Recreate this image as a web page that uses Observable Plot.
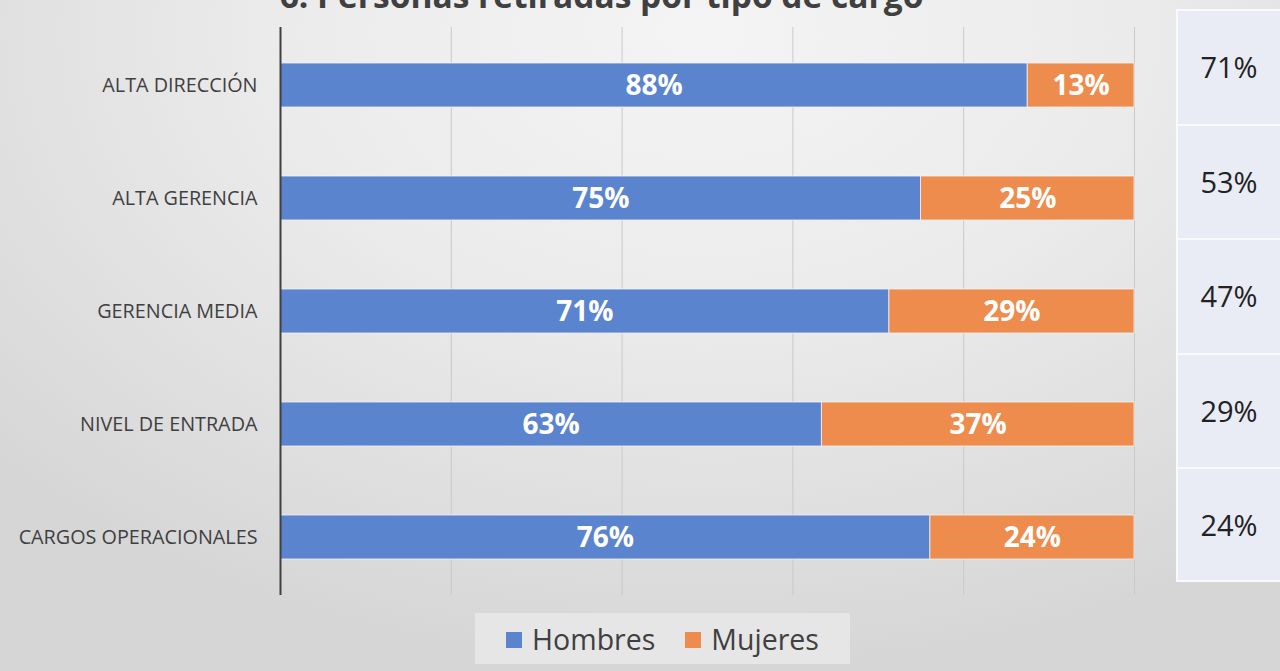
<!DOCTYPE html>
<html><head><meta charset="utf-8">
<script src="https://cdn.jsdelivr.net/npm/d3@7"></script>
<script src="https://cdn.jsdelivr.net/npm/@observablehq/plot@0.6"></script>
<style>
html,body{margin:0;padding:0;}
#wrap{position:relative;width:1280px;height:671px;overflow:hidden;
 background:radial-gradient(ellipse 75% 95% at 55% 5%, #f4f4f4 0%, #ebebeb 45%, #d6d6d6 100%);
 font-family:"Open Sans",sans-serif;}
#title{position:absolute;left:0;width:1203px;top:-28px;text-align:center;font-weight:700;font-size:33.5px;color:#404040;margin:0;white-space:nowrap;}
#chart{position:absolute;left:0;top:0;}
#legend{position:absolute;left:475px;top:613px;width:375px;height:51px;background:#e6e6e6;display:flex;align-items:center;justify-content:center;gap:30px;font-size:28.5px;color:#404040;}
#legend span.sw{display:inline-block;width:16px;height:16px;margin-right:10px;vertical-align:middle;position:relative;top:-2px;}
#side{position:absolute;left:1176px;top:9px;width:110px;}
#side div{box-sizing:border-box;height:114.6px;border:2px solid #fafafa;border-bottom:none;background:#e9ebf5;color:#222;font-size:29px;text-align:center;line-height:114px;}
#side div:last-child{border-bottom:2px solid #fafafa;}
#side div span{position:relative;left:-2px;top:-1px;}
</style></head>
<body>
<div id="wrap">
  <div id="title">6. Personas retiradas por tipo de cargo</div>
  <div id="chart"></div>
  <div id="side"></div>
  <div id="legend"></div>
</div>
<script>
const categorias = ["ALTA DIRECCIÓN","ALTA GERENCIA","GERENCIA MEDIA","NIVEL DE ENTRADA","CARGOS OPERACIONALES"];
const series = ["Hombres","Mujeres"];
const hombres = [87.5, 75, 71.3, 63.4, 76.1];
const mujeres = [12.5, 25, 28.7, 36.6, 23.9];
const etiquetasHombres = ["88%","75%","71%","63%","76%"];
const etiquetasMujeres = ["13%","25%","29%","37%","24%"];
const columnaDerecha = ["71%","53%","47%","29%","24%"];
const xTicks = [0,20,40,60,80,100];
const colores = ["#5b84cf","#ed8c4c"];

const rows = [
  ...categorias.map((c,i)=>({cat:c, serie:"Hombres", value:hombres[i], label:etiquetasHombres[i]})),
  ...categorias.map((c,i)=>({cat:c, serie:"Mujeres", value:mujeres[i], label:etiquetasMujeres[i]}))
];

const plot = Plot.plot({
  width: 1180, height: 600,
  marginLeft: 280, marginRight: 46, marginTop: 27, marginBottom: 5,
  style: {background:"transparent", fontFamily:"Open Sans, sans-serif", overflow:"visible"},
  x: {domain:[0,100], axis:null},
  y: {domain:categorias, paddingInner:0.612, paddingOuter:0.308, axis:null},
  color: {domain:series, range:colores},
  marks: [
    Plot.ruleX(xTicks.slice(1), {stroke:"#c9c9c9", strokeWidth:1}),
    Plot.barX(rows, Plot.stackX({x:"value", y:"cat", z:"serie", fill:"serie", stroke:"#f3f3f3", strokeWidth:1, strokeOpacity:0.8})),
    Plot.text(rows, Plot.stackX({x:"value", y:"cat", z:"serie", text:"label", fill:"white", fontSize:28, fontWeight:700, dy:1})),
    Plot.ruleX([0], {stroke:"#404040", strokeWidth:2}),
    Plot.axisY({tickSize:0, tickPadding:23, fontSize:19.8, color:"#404040", textAnchor:"end", label:null})
  ]
});
document.getElementById("chart").appendChild(plot);

const side = document.getElementById("side");
columnaDerecha.forEach(v=>{const d=document.createElement("div");d.innerHTML="<span>"+v+"</span>";side.appendChild(d);});

const legend = document.getElementById("legend");
series.forEach((s,i)=>{const e=document.createElement("div");e.innerHTML='<span class="sw" style="background:'+colores[i]+'"></span>'+s;legend.appendChild(e);});
</script>
</body></html>
